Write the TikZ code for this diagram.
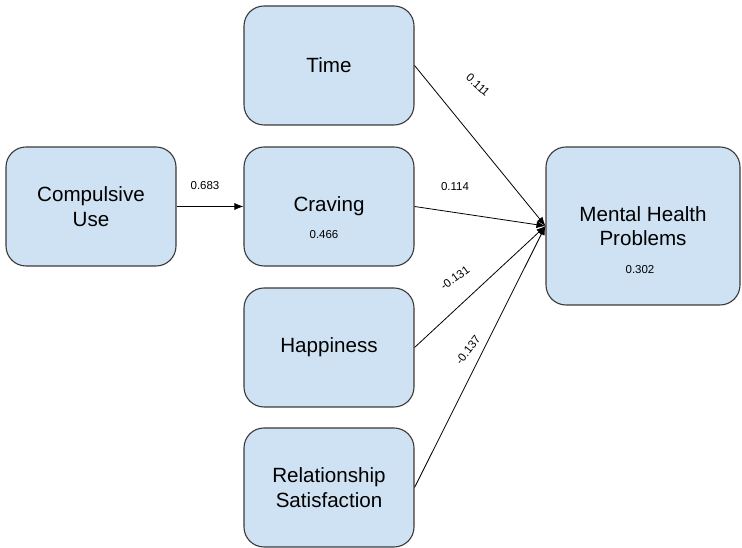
\documentclass[tikz,border=0pt]{standalone}
\usepackage{fontspec}
\setmainfont{Liberation Sans}
\usetikzlibrary{arrows.meta}
\definecolor{boxfill}{HTML}{CFE2F3}
\definecolor{boxline}{HTML}{3A3A3A}
\begin{document}
\begin{tikzpicture}[x=1pt,y=1pt,
  varbox/.style={draw=boxline, line width=1.1pt, fill=boxfill, rounded corners=20pt,
    minimum width=170pt, minimum height=119pt, align=center, inner sep=0pt,
    font=\fontsize{20.6}{24.5}\selectfont},
  coef/.style={font=\fontsize{11.5}{13}\selectfont, inner sep=0pt},
  path/.style={draw=black, line width=0.8pt, -{Latex[length=9pt,width=7pt]}}]
\useasboundingbox (0,0) rectangle (742,548);

% variables
\node[varbox] (time) at (329,482.5) {Time};
\node[varbox] (comp) at (91,341.5) {Compulsive\\Use};
\node[varbox] (crav) at (329,341.5) {Craving};
\node[varbox] (happ) at (329,200.5) {Happiness};
\node[varbox] (rel) at (329,60.5) {Relationship\\Satisfaction};
\node[varbox, minimum width=194pt, minimum height=158pt] (mhp) at (643,322) {Mental Health\\Problems};

% explained variance
\node[coef] (r2crav) at (324,313) {0.466};
\node[coef] (r2mhp) at (640,278) {0.302};

% paths
\draw[path] (comp.east) -- (crav.west);
\draw[path] (time.east) -- (mhp.west);
\draw[path] (crav.east) -- (mhp.west);
\draw[path] (happ.east) -- (mhp.west);
\draw[path] (rel.east) -- (mhp.west);

% path coefficients
\node[coef] (c1) at (205,362) {0.683};
\node[coef, rotate=-42] (c2) at (478,463) {0.111};
\node[coef] (c3) at (455,361) {0.114};
\node[coef, rotate=36] (c4) at (455,270) {-0.131};
\node[coef, rotate=52] (c5) at (468,198) {-0.137};
\end{tikzpicture}
\end{document}
